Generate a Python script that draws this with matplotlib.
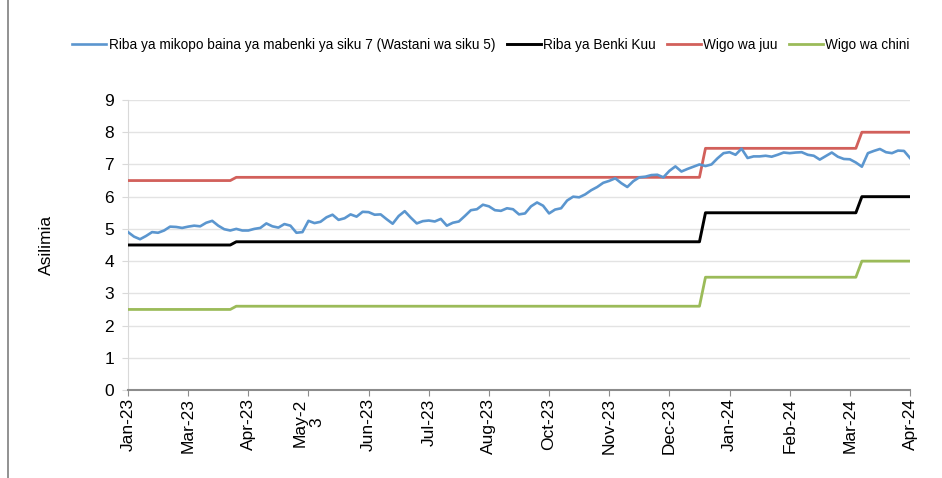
import numpy as np
import matplotlib
matplotlib.use("Agg")
import matplotlib.pyplot as plt
from matplotlib.lines import Line2D

plt.rcParams["font.family"] = ["Liberation Sans", "DejaVu Sans"]

# tick labels (category axis, one label every 10 observations, last at the end)
tick_labels = ["Jan-23", "Mar-23", "Apr-23", "May-2\n3", "Jun-23", "Jul-23", "Aug-23",
               "Oct-23", "Nov-23", "Dec-23", "Jan-24", "Feb-24", "Mar-24", "Apr-24"]
tick_pos = [0, 10, 20, 30, 40, 50, 60, 70, 80, 90, 100, 110, 120, 130]

# 7-day interbank rate (5-day average)
interbank = [4.90, 4.76, 4.68, 4.78, 4.90, 4.88, 4.95, 5.07, 5.06, 5.03,
             5.07, 5.10, 5.08, 5.19, 5.25, 5.10, 4.99, 4.95, 5.00, 4.95,
             4.95, 5.00, 5.03, 5.17, 5.08, 5.04, 5.15, 5.10, 4.88, 4.90,
             5.25, 5.18, 5.22, 5.36, 5.44, 5.28, 5.33, 5.45, 5.38, 5.53,
             5.52, 5.44, 5.45, 5.30, 5.16, 5.40, 5.55, 5.35, 5.17, 5.24,
             5.26, 5.23, 5.31, 5.10, 5.19, 5.23, 5.40, 5.58, 5.61, 5.75,
             5.70, 5.58, 5.56, 5.64, 5.61, 5.45, 5.48, 5.70, 5.82, 5.72,
             5.48, 5.60, 5.64, 5.88, 6.00, 5.98, 6.07, 6.20, 6.30, 6.43,
             6.49, 6.57, 6.42, 6.30, 6.48, 6.60, 6.62, 6.67, 6.68, 6.60,
             6.80, 6.94, 6.78, 6.86, 6.93, 7.00, 6.95, 7.00, 7.19, 7.35,
             7.38, 7.30, 7.49, 7.20, 7.25, 7.25, 7.27, 7.24, 7.30, 7.37,
             7.35, 7.37, 7.38, 7.30, 7.27, 7.15, 7.26, 7.37, 7.24, 7.17,
             7.16, 7.06, 6.93, 7.35, 7.42, 7.48, 7.38, 7.35, 7.43, 7.42,
             7.20]
cbr = [4.5] * 18 + [4.6] * 78 + [5.5] * 26 + [6.0] * 9
upper = [6.5] * 18 + [6.6] * 78 + [7.5] * 26 + [8.0] * 9
lower = [2.5] * 18 + [2.6] * 78 + [3.5] * 26 + [4.0] * 9

labels = ["Riba ya mikopo baina ya mabenki ya siku 7 (Wastani wa siku 5)",
          "Riba ya Benki Kuu", "Wigo wa juu", "Wigo wa chini"]
colors = ["#5b96cf", "#000000", "#d2605b", "#9bbb59"]

x = np.arange(len(interbank))
fig = plt.figure(figsize=(9.42, 4.78), dpi=100, facecolor="white")
ax = fig.add_axes([128 / 942, 1 - 390 / 478, 782 / 942, 290 / 478])

ax.plot(x, interbank, color=colors[0], lw=1.9, label=labels[0], zorder=4)
ax.plot(x, cbr, color=colors[1], lw=2.1, label=labels[1], zorder=3)
ax.plot(x, upper, color=colors[2], lw=2.0, label=labels[2], zorder=3)
ax.plot(x, lower, color=colors[3], lw=2.0, label=labels[3], zorder=3)

ax.set_xlim(0, 130)
ax.set_ylim(0, 9)
ax.set_yticks(range(10))
ax.grid(axis="y", color="#e3e3e3", lw=1)
ax.set_axisbelow(True)
for s in ["top", "right"]:
    ax.spines[s].set_visible(False)
ax.spines["left"].set_color("#d9d9d9")
ax.spines["bottom"].set_color("#8c8c8c")
ax.spines["bottom"].set_linewidth(1.5)
ax.tick_params(axis="y", length=4, color="#d9d9d9", labelsize=12.5, pad=6)
ax.tick_params(axis="x", length=4, color="#8c8c8c", labelsize=12.5, pad=2)
ax.set_xticks(tick_pos)
ax.set_xticklabels(tick_labels, rotation=90, ma="center")
ax.set_ylabel("Asilimia", fontsize=12.5, labelpad=36)

ax.legend(loc="center", bbox_to_anchor=(491 / 942, 1 - 45 / 478),
          bbox_transform=fig.transFigure, ncol=4, frameon=False,
          fontsize=9.8, handlelength=2.5, handletextpad=0.15, columnspacing=0.85)

fig.add_artist(Line2D([7.5 / 942, 7.5 / 942], [0, 1], color="#7f7f7f", lw=1.2,
                      transform=fig.transFigure))

fig.savefig("out.png", dpi=100, facecolor="white")
